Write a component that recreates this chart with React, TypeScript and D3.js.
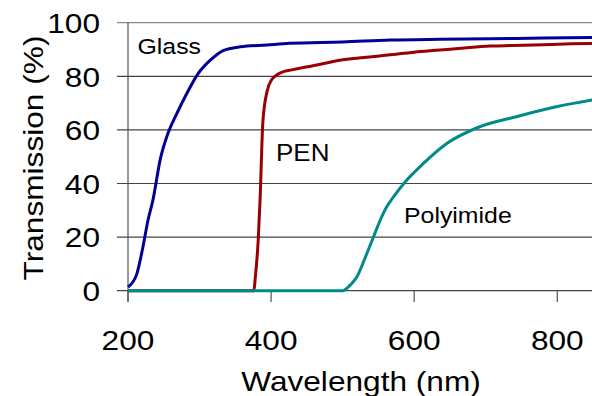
import React from "react";
import { scaleLinear, line, curveMonotoneX } from "d3";

// wavelengths (nm) and transmission (%)
const glassWl = [200, 212, 221, 228, 235, 245, 256, 268, 282, 298, 315, 333, 357, 394, 426, 500, 566, 636, 706, 780, 850];
const glassT = [1.4, 6, 16.5, 26.4, 34, 48.9, 58.8, 66, 73.5, 81, 86, 89.6, 91, 91.7, 92.3, 92.8, 93.5, 93.8, 94, 94.3, 94.5];

const penWl = [200, 376, 377.6, 382, 384.6, 388.4, 394, 401, 407, 413, 431, 460, 496, 530, 566, 600, 636, 670, 706, 740, 780, 820, 850];
const penT = [0, 0, 4, 19, 34, 62.5, 74, 78.8, 80.3, 81.3, 82.5, 84, 86, 87, 88, 89, 89.8, 90.6, 91.3, 91.5, 91.8, 92.1, 92.3];

const polyWl = [200, 500, 504, 512, 520, 531, 543, 552, 562, 571, 587, 613, 646, 688, 744, 800, 850];
const polyT = [0, 0, 0.5, 2.5, 5.2, 12, 20, 26, 31.5, 35, 40.5, 47.5, 55, 60.8, 65, 68.7, 71.2];

const yTicks = [0, 20, 40, 60, 80, 100];
const xTicks = [200, 400, 600, 800];

const font = "'Liberation Sans', Arial, sans-serif";
const sx = 1.13; // the reference text is a bit wider than plain Arial

const Txt = ({ x, y, size, anchor = "start", rotate = 0, children }: any) => (
  <text
    transform={`translate(${x},${y}) rotate(${rotate}) scale(${sx},1)`}
    textAnchor={anchor}
    fontSize={size}
    fill="#000"
  >
    {children}
  </text>
);

const App = () => {
  const x = scaleLinear().domain([200, 800]).range([128, 557.3]);
  const y = scaleLinear().domain([0, 100]).range([290.7, 22.7]);

  const path = line<[number, number]>()
    .x((d) => x(d[0]))
    .y((d) => y(d[1]))
    .curve(curveMonotoneX);

  const series = [
    { name: "Glass", wl: glassWl, t: glassT, color: "#000096" },
    { name: "PEN", wl: penWl, t: penT, color: "#9a0000" },
    { name: "Polyimide", wl: polyWl, t: polyT, color: "#008b8b" },
  ];

  return (
    <svg
      width={592}
      height={396}
      style={{ position: "absolute", left: 0, top: 0, background: "#fff" }}
      fontFamily={font}
    >
      {/* grid lines + y ticks */}
      {yTicks.map((v) => (
        <line key={v} x1={117} x2={592} y1={y(v)} y2={y(v)} stroke={v === 100 ? "#888" : "#444"} strokeWidth={1.2} />
      ))}
      {/* y axis */}
      <line x1={x(200)} x2={x(200)} y1={y(100)} y2={302} stroke="#555" strokeWidth={1.2} />
      {/* x ticks */}
      {xTicks.map((v) => (
        <line key={v} x1={x(v)} x2={x(v)} y1={y(0)} y2={302} stroke="#555" strokeWidth={1.2} />
      ))}

      {series.map((s) => (
        <path
          key={s.name}
          d={path(s.wl.map((w, i) => [w, s.t[i]] as [number, number])) || ""}
          fill="none"
          stroke={s.color}
          strokeWidth={3}
          strokeLinejoin="round"
        />
      ))}

      {yTicks.map((v) => (
        <Txt key={v} x={100} y={y(v) + 10.3} size={28} anchor="end">
          {v}
        </Txt>
      ))}
      {xTicks.map((v) => (
        <Txt key={v} x={x(v)} y={350} size={28} anchor="middle">
          {v}
        </Txt>
      ))}

      <Txt x={361} y={390.5} size={28} anchor="middle">
        Wavelength (nm)
      </Txt>
      <Txt x={43} y={158} size={28} anchor="middle" rotate={-90}>
        Transmission (%)
      </Txt>

      <Txt x={137.5} y={53.5} size={22}>Glass</Txt>
      <Txt x={276} y={161} size={23}>PEN</Txt>
      <Txt x={404} y={223.3} size={22}>Polyimide</Txt>
    </svg>
  );
};

export default App;
